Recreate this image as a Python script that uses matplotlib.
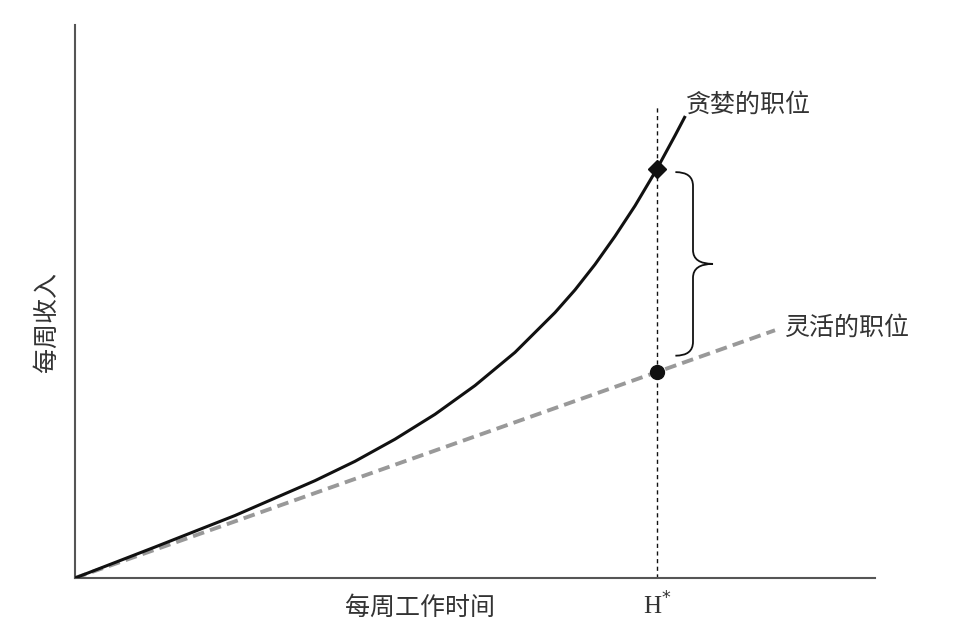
import matplotlib.pyplot as plt
from matplotlib.path import Path
from matplotlib.patches import PathPatch

plt.rcParams['font.family'] = ['Noto Sans CJK SC', 'DejaVu Sans']

# greedy job: weekly earnings vs weekly hours
greedy_x = [0, 10, 20, 30, 35, 40, 45, 50, 55, 60, 62.5, 65, 67.5, 70, 72.75, 75, 76.2]
greedy_y = [0, 5.6, 11.3, 17.6, 21.1, 25.1, 29.6, 34.8, 40.8, 48.0, 52.1, 56.7, 61.8, 67.3, 74.0, 80.0, 83.3]

# flexible job: straight line
flex_x = [0, 87.5]
flex_y = [0, 44.8]

h_star = 72.75
greedy_at_h = 74.0
flex_at_h = 37.2

fig = plt.figure(figsize=(9.59, 6.43), dpi=100)
ax = fig.add_axes([75 / 959, 65 / 643, 800 / 959, 553 / 643])
ax.set_xlim(0, 100)
ax.set_ylim(0, 100)

ax.plot(flex_x, flex_y, color='#999999', lw=2.8, dashes=(3, 1.6), zorder=2)
ax.plot(greedy_x, greedy_y, color='#111111', lw=2.2, zorder=3)
ax.plot([h_star, h_star], [0, 85.5], color='#111111', lw=1, dashes=(3, 2.5), zorder=1)

ax.plot([h_star], [greedy_at_h], marker='D', ms=9, color='#111111', zorder=4)
ax.plot([h_star], [flex_at_h], marker='o', ms=10, color='#111111', zorder=4)

# curly brace between the two points
top = greedy_at_h - 0.6
bot = flex_at_h + 3.0
mid = (top + bot) / 2
x0, xm, xt = h_star + 2.3, h_star + 4.5, h_star + 7.0
r = 2.5
verts = [(x0, top), (xm, top), (xm, top - r),
         (xm, mid + r), (xm, mid), (xt, mid),
         (xm, mid), (xm, mid - r),
         (xm, bot + r), (xm, bot), (x0, bot)]
codes = [Path.MOVETO, Path.CURVE3, Path.CURVE3,
         Path.LINETO, Path.CURVE3, Path.CURVE3,
         Path.CURVE3, Path.CURVE3,
         Path.LINETO, Path.CURVE3, Path.CURVE3]
ax.add_patch(PathPatch(Path(verts, codes), fill=False, lw=1.3, edgecolor='#111111'))

ax.text(76.3, 85.6, '贪婪的职位', fontsize=18, color='#333333', va='center', ha='left')
ax.text(88.8, 45.3, '灵活的职位', fontsize=18, color='#333333', va='center', ha='left')

for s in ['top', 'right']:
    ax.spines[s].set_visible(False)
for s in ['left', 'bottom']:
    ax.spines[s].set_color('#555555')
    ax.spines[s].set_linewidth(1.5)
ax.set_xticks([])
ax.set_yticks([])

ax.text(h_star, -2.6, 'H$^{*}$', fontsize=18, family='Liberation Serif', color='#333333',
        ha='center', va='top')
ax.set_xlabel('每周工作时间', fontsize=18, color='#333333', labelpad=12)
ax.xaxis.set_label_coords(0.431, -0.03, transform=ax.transAxes)
ax.xaxis.label.set_va('top')
ax.set_ylabel('每周收入', fontsize=18, color='#333333')
ax.yaxis.set_label_coords(-0.019, 0.463, transform=ax.transAxes)

fig.savefig('out.png', dpi=100)
